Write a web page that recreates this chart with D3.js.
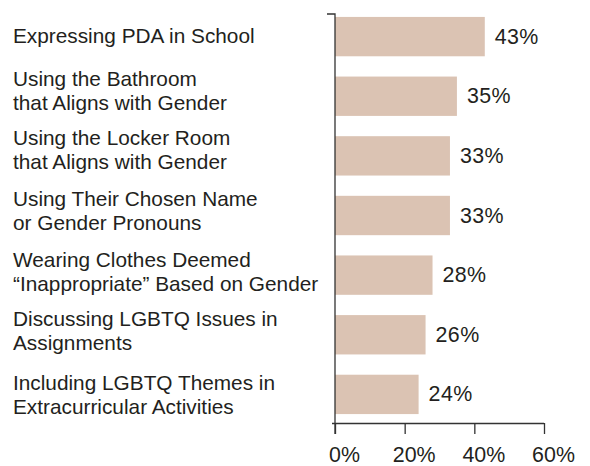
<!DOCTYPE html>
<html>
<head>
<meta charset="utf-8">
<script src="https://cdn.jsdelivr.net/npm/d3@7"></script>
<style>
  body { margin: 0; background: #fff; }
  text { font-family: 'Liberation Sans', Arial, sans-serif; fill: #231f20; }
</style>
</head>
<body>
<svg width="590" height="466"></svg>
<script>
const categories = [
	['Expressing PDA in School'],
	['Using the Bathroom', 'that Aligns with Gender'],
	['Using the Locker Room', 'that Aligns with Gender'],
	['Using Their Chosen Name', 'or Gender Pronouns'],
	['Wearing Clothes Deemed', '\u201cInappropriate\u201d Based on Gender'],
	['Discussing LGBTQ Issues in', 'Assignments'],
	['Including LGBTQ Themes in', 'Extracurricular Activities']
]
const values = [43, 35, 33, 33, 28, 26, 24]
const tickValues = [0, 20, 40, 60]

const svg = d3.select('svg')
const fontSize = 20.8
const valueSize = 21.4
const lineGap = 24
const barColor = '#dbc3b3'
const axisColor = '#333'

// small hand nudges so the label blocks sit where the original put them
const labelNudge = [0, -5, -5, -4, -3, -3, 1]

const ids = categories.map((c, i) => i)

const xScale = d3.scaleLinear()
	.domain([0, 60])
	.range([335, 544])

const yScale = d3.scaleBand()
	.domain(ids)
	.range([5, 426])
	.paddingInner(0.34)
	.paddingOuter(0.2)

const axisTop = 14
const axisBottomY = 423

// bars
svg.selectAll('.bar')
	.data(values)
	.enter()
	.append('rect')
	.attr('class', 'bar')
	.attr('x', xScale(0))
	.attr('y', (d, i) => yScale(i))
	.attr('width', d => xScale(d) - xScale(0))
	.attr('height', yScale.bandwidth())
	.attr('fill', barColor)

// value labels
svg.selectAll('.bartext')
	.data(values)
	.enter()
	.append('text')
	.attr('class', 'bartext')
	.attr('x', d => xScale(d) + 10)
	.attr('y', (d, i) => yScale(i) + yScale.bandwidth() / 2 + 7)
	.attr('font-size', valueSize + 'px')
	.attr('letter-spacing', '0.4px')
	.text(d => d + '%')

// category labels
const labels = svg.selectAll('.cat')
	.data(categories)
	.enter()
	.append('text')
	.attr('class', 'cat')
	.attr('font-size', fontSize + 'px')
	.attr('y', (d, i) => {
		const mid = yScale(i) + yScale.bandwidth() / 2
		return mid + 6.5 - (d.length - 1) * lineGap / 2 + labelNudge[i]
	})

labels.selectAll('tspan')
	.data(d => d)
	.enter()
	.append('tspan')
	.attr('x', 13)
	.attr('dy', (d, i) => i === 0 ? 0 : lineGap)
	.text(d => d)

// x axis
const xAxis = d3.axisBottom(xScale)
	.tickValues(tickValues)
	.tickSize(11)
	.tickSizeOuter(0)
	.tickFormat(d => d + '%')

const xg = svg.append('g')
	.attr('transform', `translate(0, ${axisBottomY})`)
	.call(xAxis)

xg.select('.domain')
	.attr('d', `M${xScale(0) - 3},0.5H${xScale(60)}`)
	.attr('stroke', axisColor)
	.attr('stroke-width', 1.3)
xg.selectAll('.tick line')
	.attr('stroke', axisColor)
	.attr('stroke-width', 1.3)
xg.selectAll('.tick text')
	.attr('font-family', null)
	.attr('font-size', valueSize + 'px')
	.attr('fill', '#231f20')
	.attr('y', 39)
	.attr('dy', 0)
	.attr('dx', 9)

// y axis line with the short outer tick on top
svg.append('path')
	.attr('d', d3.line()([[xScale(0) - 8, axisTop], [xScale(0), axisTop], [xScale(0), axisBottomY + 11]]))
	.attr('fill', 'none')
	.attr('stroke', axisColor)
	.attr('stroke-width', 1.3)
</script>
</body>
</html>
